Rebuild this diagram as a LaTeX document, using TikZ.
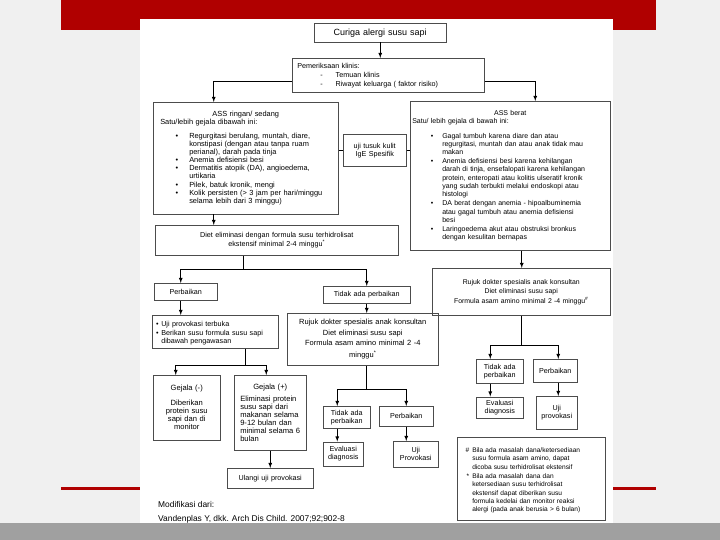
\documentclass[tikz,border=0pt]{standalone}
\usepackage{fontspec}
\setmainfont{Liberation Sans}
\usetikzlibrary{positioning}
\usetikzlibrary{arrows}
\definecolor{slidebg}{RGB}{240,240,240}
\definecolor{slidered}{RGB}{176,0,0}
\definecolor{slidebar}{RGB}{160,160,160}
\newcommand{\kecil}{\fontsize{7.2}{8}\selectfont}
\newcommand{\ringankecil}{\fontsize{7.4}{7.8}\selectfont}
\newcommand{\sedang}{\fontsize{7}{8.3}\selectfont}
\newcommand{\gejalafont}{\fontsize{7.6}{8}\selectfont}
\newcommand{\catatanfont}{\fontsize{6.6}{8.4}\selectfont}
\newcommand{\besar}{\fontsize{9}{10}\selectfont}
\newenvironment{gejala}[2]{\begin{list}{\textbullet}{%
  \setlength{\leftmargin}{#1}\setlength{\labelsep}{#2}%
  \setlength{\itemsep}{0.6pt}\setlength{\parsep}{0pt}%
  \setlength{\topsep}{0pt}\setlength{\partopsep}{0pt}}}{\end{list}}
\tikzset{
        flow box/.style={
          draw=black!70,
          line width=0.5pt,
          anchor=north west,
          inner sep=2pt,
          align=center,
          font=\kecil
          },
        flow arrow/.style={line width=0.8pt, -latex},
        flow line/.style={line width=0.8pt},
}

\begin{document}
\begin{tikzpicture}[x=1pt, y=-1pt]
      % SLIDE
      \fill[slidebg] (0,0) rectangle (720,540);
      \useasboundingbox (0,0) rectangle (720,540);
      \fill[slidered] (61,0) rectangle (656,30);
      \fill[slidered] (61,487) rectangle (656,489.5);
      \fill[slidebar] (0,523) rectangle (720,540);
      \fill[white] (140,19) rectangle (613,523);

      % TOP
      \node[flow box, font=\besar, minimum width=132, minimum height=19, text width=128] (curiga) at (314,23) {Curiga alergi susu sapi};
      \node[flow box, align=left, minimum width=192, minimum height=34, text width=188] (periksa) at (292,58) {%
        \hspace*{3pt}Pemeriksaan klinis:\\[1pt]
        \hspace*{26pt}-\hspace{13pt}Temuan klinis\\[1pt]
        \hspace*{26pt}-\hspace{13pt}Riwayat keluarga ( faktor  risiko)};

      % ASS RINGAN / SEDANG
      \node[flow box, font=\ringankecil, align=left, minimum width=185, minimum height=112, text width=181] (ringan) at (153,102) {%
        {\centering ASS ringan/ sedang\par}
        \hspace*{5pt}Satu/lebih gejala dibawah ini:\par\vspace{6pt}
        \begin{gejala}{34pt}{11pt}
          \item Regurgitasi berulang, muntah, diare,\\ konstipasi (dengan atau tanpa ruam\\ perianal), darah pada  tinja
          \item Anemia defisiensi besi
          \item Dermatitis atopik (DA), angioedema,\\ urtikaria
          \item Pilek, batuk kronik, mengi
          \item Kolik persisten (> 3 jam per hari/minggu\\ selama lebih dari 3  minggu)
        \end{gejala}};

      % UJI TUSUK KULIT
      \node[flow box, minimum width=63, minimum height=32, text width=59] (tusuk) at (343,134) {uji tusuk kulit\\IgE Spesifik};

      % ASS BERAT
      \node[flow box, font=\sedang, align=left, minimum width=200, minimum height=149, text width=196] (berat) at (410,101) {%
        {\centering ASS berat\par}
        Satu/ lebih gejala di bawah ini:\par\vspace{6pt}
        \begin{gejala}{30pt}{9pt}
          \item Gagal tumbuh karena diare dan atau\\ regurgitasi, muntah dan atau anak tidak mau\\ makan
          \item Anemia defisiensi besi karena kehilangan\\ darah di tinja, ensefalopati karena kehilangan\\ protein, enteropati atau kolitis ulseratif kronik\\ yang sudah terbukti melalui endoskopi atau\\ histologi
          \item DA berat dengan anemia - hipoalbuminemia\\ atau gagal tumbuh atau anemia defisiensi\\ besi
          \item Laringoedema akut atau obstruksi bronkus\\ dengan kesulitan bernapas
        \end{gejala}};

      % DIET ELIMINASI
      \node[flow box, minimum width=243, minimum height=30, text width=239] (diet) at (155,225) {Diet eliminasi dengan formula susu terhidrolisat\\[1pt] ekstensif  minimal 2-4 minggu\textsuperscript{*}};
      \node[flow box, minimum width=63, minimum height=17, text width=59] (perb1) at (154,283) {Perbaikan};
      \node[flow box, minimum width=87, minimum height=17, text width=83] (tidak1) at (323,286) {Tidak ada perbaikan};

      % left branch
      \node[flow box, align=left, minimum width=126, minimum height=33, text width=122] (ujiL) at (152,315) {%
        \begin{gejala}{7pt}{2.5pt}
          \item Uji provokasi terbuka
          \item Berikan susu formula  susu sapi\\ dibawah pengawasan
        \end{gejala}};
      \node[flow box, font=\gejalafont, minimum width=67, minimum height=65, text width=63] (gejM) at (153,375) {Gejala (-)\\[7pt]Diberikan\\protein susu\\sapi dan di\\monitor};
      \node[flow box, font=\gejalafont, align=left, minimum width=72, minimum height=75, text width=66, inner xsep=3pt] (gejP) at (234,375) {%
        {\centering Gejala (+)\par}\vspace{4pt}
        \hspace*{3pt}Eliminasi protein\\ \hspace*{3pt}susu sapi dari\\ \hspace*{3pt}makanan selama\\ \hspace*{3pt}9-12 bulan dan\\ \hspace*{3pt}minimal selama 6\\ \hspace*{3pt}bulan};
      \node[flow box, minimum width=86, minimum height=20, text width=82] (ulangi) at (227,468) {Ulangi uji provokasi};

      % middle branch
      \node[flow box, font=\fontsize{7.5}{8.5}\selectfont, minimum width=151, minimum height=52, text width=147] (rujukM) at (287,313) {Rujuk dokter spesialis anak konsultan\\[2pt] Diet eliminasi  susu sapi\\[2pt] Formula asam amino minimal 2 -4\\[3pt] minggu\textsuperscript{*}};
      \node[flow box, minimum width=47, minimum height=22, text width=43] (tidak2) at (323,406) {Tidak ada\\perbaikan};
      \node[flow box, minimum width=54, minimum height=20, text width=50] (perb2) at (379,406) {Perbaikan};
      \node[flow box, minimum width=40, minimum height=24, text width=36, below=13pt of tidak2.south west, anchor=north west] (eval2) {Evaluasi\\diagnosis};
      \node[flow box, minimum width=45, minimum height=26, text width=41] (uji2) at (393,441) {Uji\\Provokasi};

      % right branch
      \node[flow box, font=\fontsize{6.9}{8}\selectfont, minimum width=178, minimum height=47, text width=174] (rujukR) at (432,268) {Rujuk dokter spesialis anak konsultan\\[1pt] Diet eliminasi susu  sapi\\[2pt] Formula asam amino minimal 2 -4 minggu\textsuperscript{\#}};
      \node[flow box, minimum width=47, minimum height=24, text width=43] (tidak3) at (476,359) {Tidak ada\\perbaikan};
      \node[flow box, minimum width=44, minimum height=23, text width=40] (perb3) at (533,359) {Perbaikan};
      \node[flow box, minimum width=47, minimum height=21, text width=43, below=13pt of tidak3.south west, anchor=north west] (eval3) {Evaluasi\\diagnosis};
      \node[flow box, minimum width=41, minimum height=33, text width=37] (uji3) at (536,396) {Uji\\provokasi};

      % CATATAN
      \node[flow box, font=\catatanfont, align=left, minimum width=148, minimum height=83, text width=144] (catatan) at (457,437) {%
        \begin{gejala}{13pt}{3pt}
          \item[\#] Bila ada masalah dana/ketersediaan\\ susu formula asam amino, dapat\\ dicoba susu terhidrolisat ekstensif
          \item[*] Bila ada masalah dana dan\\ ketersediaan susu terhidrolisat\\ ekstensif dapat diberikan susu\\ formula kedelai dan monitor reaksi\\ alergi (pada anak berusia > 6 bulan)
        \end{gejala}};

      % SUMBER
      \node[anchor=north west, align=left, inner sep=0pt, font=\fontsize{8.4}{9.5}\selectfont] (sumber) at (158,501) {Modifikasi dari:\\[4.5pt]Vandenplas Y, dkk. Arch Dis Child. 2007;92;902-8};

      % WIRING
      % top to ASS
      \draw[flow arrow] (curiga) -- (curiga |- periksa.north);
      \draw[flow arrow] ([yshift=-6pt]periksa.west) -| ([xshift=-32pt]ringan.north);
      \draw[flow arrow] ([yshift=-6pt]periksa.east) -| ([xshift=25pt]berat.north);
      \draw[flow line] (tusuk.west) -- (tusuk.west -| ringan.east);
      \draw[flow line] (tusuk.east) -- (tusuk.east -| berat.west);
      % ringan to diet
      \draw[flow arrow] ([xshift=-32pt]ringan.south) -- ([xshift=-32pt]ringan.south |- diet.north);
      \draw[flow line] ([xshift=-33pt]diet.south) -- ++(0,14) coordinate (split1);
      \draw[flow arrow] (split1) -| ([xshift=-5pt]perb1.north);
      \draw[flow arrow] (split1) -| (tidak1.north);
      % perbaikan to provokasi
      \draw[flow arrow] ([xshift=-5pt]perb1.south) -- ([xshift=-5pt]perb1.south |- ujiL.north);
      \draw[flow line] ([xshift=30pt]ujiL.south) -- ++(0,17) coordinate (split2);
      \draw[flow arrow] (split2) -| ([xshift=-11pt]gejM.north);
      \draw[flow arrow] (split2) -| ([xshift=-4pt]gejP.north);
      \draw[flow arrow] (gejP.south) -- (gejP.south |- ulangi.north);
      % tidak ada perbaikan to rujuk
      \draw[flow arrow] (tidak1.south) -- (tidak1.south |- rujukM.north);
      \draw[flow line] (tidak1.south |- rujukM.south) -- ++(0,24) coordinate (split3);
      \draw[flow arrow] (split3) -| ([xshift=-9.5pt]tidak2.north);
      \draw[flow arrow] (split3) -| (perb2.north);
      \draw[flow arrow] ([xshift=-9.5pt]tidak2.south) -- ([xshift=-9.5pt]tidak2.south |- eval2.north);
      \draw[flow arrow] (perb2.south) -- (perb2.south |- uji2.north);
      % berat to rujuk
      \draw[flow arrow] ([xshift=11.5pt]berat.south) -- ([xshift=11.5pt]berat.south |- rujukR.north);
      \draw[flow line] (rujukR.south) -- ++(0,30) coordinate (split4);
      \draw[flow arrow] (split4) -| ([xshift=-9.5pt]tidak3.north);
      \draw[flow arrow] (split4) -| ([xshift=3pt]perb3.north);
      \draw[flow arrow] ([xshift=-9.5pt]tidak3.south) -- ([xshift=-9.5pt]tidak3.south |- eval3.north);
      \draw[flow arrow] ([xshift=3pt]perb3.south) -- ([xshift=3pt]perb3.south |- uji3.north);
\end{tikzpicture}
\end{document}
